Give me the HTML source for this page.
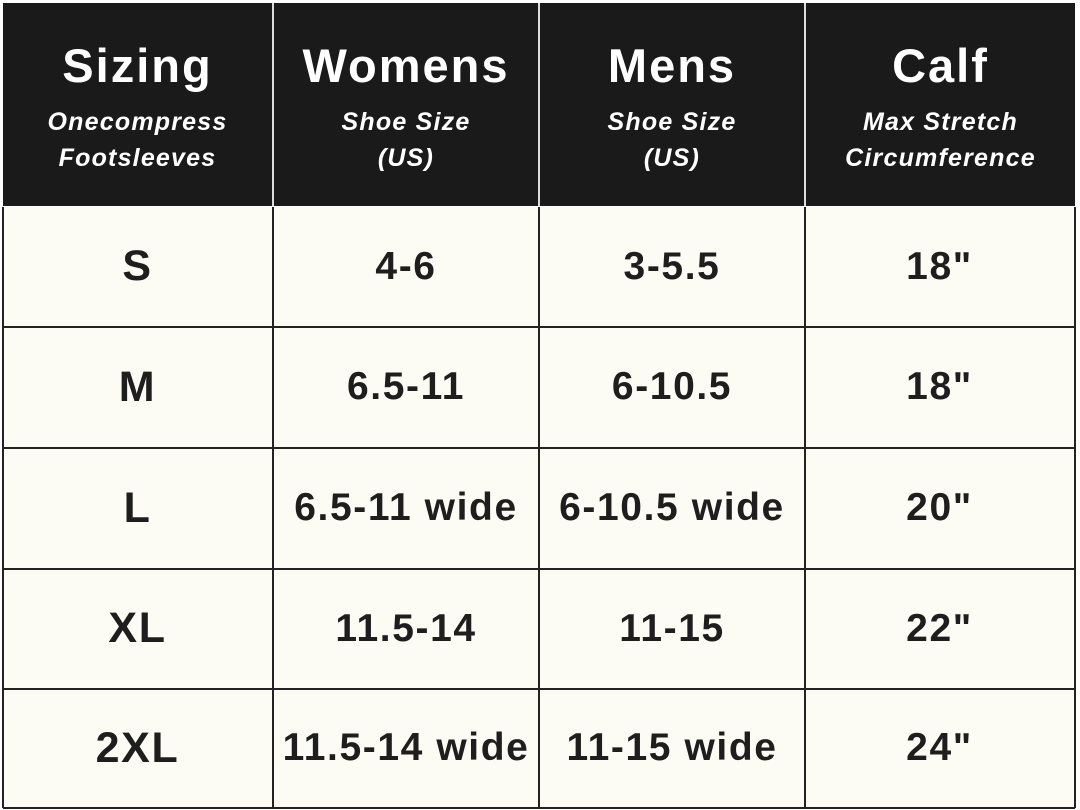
<!DOCTYPE html>
<html><head><style>
body{margin:0;width:1080px;height:810px;background:#fff;position:relative;overflow:hidden;font-family:"Liberation Sans",sans-serif}
.h{position:absolute;background:#1a1a1a;color:#fff;text-align:center}
.h b{display:block;font-size:47px;margin-top:37px;line-height:52px;letter-spacing:2px}
.h i{display:block;font-size:25px;line-height:36px;margin-top:12px;font-weight:bold;letter-spacing:1.2px}
.c{position:absolute;background:#fcfcf5;color:#1e1e1e;font-weight:bold;font-size:39px;letter-spacing:1.6px;display:flex;align-items:center;justify-content:center}
.v{position:absolute;background:#222;width:2px}
.hl{position:absolute;background:#222;height:2px;left:3px;width:1072px}
</style></head><body>
<div class="h" style="left:3px;top:3px;width:269px;height:203px"><b>Sizing</b><i>Onecompress<br>Footsleeves</i></div>
<div class="h" style="left:274px;top:3px;width:264px;height:203px"><b>Womens</b><i>Shoe Size<br>(US)</i></div>
<div class="h" style="left:540px;top:3px;width:264px;height:203px"><b>Mens</b><i>Shoe Size<br>(US)</i></div>
<div class="h" style="left:806px;top:3px;width:269px;height:203px"><b>Calf</b><i>Max Stretch<br>Circumference</i></div>
<div style="position:absolute;left:272px;top:3px;width:2px;height:203px;background:#ddd"></div>
<div style="position:absolute;left:538px;top:3px;width:2px;height:203px;background:#ddd"></div>
<div style="position:absolute;left:804px;top:3px;width:2px;height:203px;background:#ddd"></div>
<div id="rows"></div>
<script>
var d=[["S","4-6","3-5.5",'18"'],["M","6.5-11","6-10.5",'18"'],["L","6.5-11 wide","6-10.5 wide",'20"'],["XL","11.5-14","11-15",'22"'],["2XL","11.5-14 wide","11-15 wide",'24"']];
var ys=[207,327,448,569,689,808],xs=[3,274,540,806,1075],h="";
for(var r=0;r<5;r++){for(var c=0;c<4;c++){h+='<div class="c" style="left:'+xs[c]+'px;top:'+ys[r]+'px;width:'+(xs[c+1]-xs[c]-2)+'px;height:'+(ys[r+1]-ys[r]-1)+'px;'+(c==0?'font-size:43px;':'')+'">'+d[r][c]+'</div>';}
if(r>0)h+='<div class="hl" style="top:'+(ys[r]-1)+'px"></div>';}
for(var c=1;c<4;c++)h+='<div class="v" style="left:'+(xs[c]-2)+'px;top:207px;height:601px"></div>';
h+='<div class="v" style="left:2px;top:207px;height:601px"></div><div class="v" style="left:1074px;top:207px;height:601px"></div><div class="hl" style="top:807px"></div>';
document.getElementById("rows").innerHTML=h;
</script>
</body></html>
